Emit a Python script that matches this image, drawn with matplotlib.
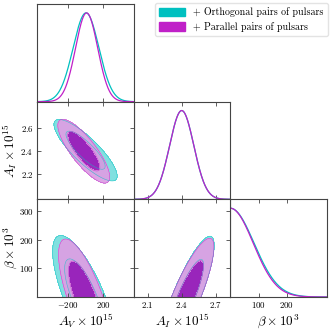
import numpy as np
import matplotlib
matplotlib.use("Agg")
import matplotlib.pyplot as plt
from matplotlib.patches import Patch

plt.rcParams['font.family'] = 'serif'
plt.rcParams['font.serif'] = ['cmr10']
plt.rcParams['mathtext.fontset'] = 'cm'
plt.rcParams['axes.unicode_minus'] = False

# ---------------- data ----------------
series_labels = ['+ Orthogonal pairs of pulsars', '+ Parallel pairs of pulsars']
line_colors = ['#00c0c0', '#c020c8']
outer_fill = ['#80e0e0', '#dca0e4']
inner_fill = ['#00b0b0', '#a41cbc']

# 1D marginals
av_mean = [5.0, 12.0]
av_sd = [145.0, 124.0]
ai_mean = [2.40, 2.40]
ai_sd = [0.107, 0.107]
beta_sd = [84.0, 81.0]

# 2D: A_V vs A_I
avai_av0 = [0.0, -20.0]
avai_ai0 = [2.405, 2.396]
avai_sd_av = [145.0, 119.0]
avai_sd_ai = [0.110, 0.114]
avai_rho = [-0.84, -0.81]

# 2D: A_V vs beta
avb_av0 = [-15.0, -7.0]
avb_sd_av = [145.0, 121.0]
avb_sd_b = [88.0, 83.0]
avb_rho = [-0.74, -0.73]

# 2D: A_I vs beta
aib_ai0 = [2.44, 2.44]
aib_sd_ai = [0.101, 0.100]
aib_sd_b = [87.0, 84.0]
aib_rho = [0.85, 0.845]

# axis ranges & ticks
av_lim = (-545, 540)
ai_lim = (1.975, 2.83)
b_lim = (0, 342)
av_ticks = [-200, 200]
ai_ticks_x = [2.1, 2.4, 2.7]
ai_ticks_y = [2.2, 2.4, 2.6]
b_ticks_y = [100, 200, 300]
b_ticks_x = [100, 200]
labels = [r'$A_V \times 10^{15}$', r'$A_I \times 10^{15}$', r'$\beta \times 10^{3}$']
contour_r2 = [2.30, 5.99]

# ---------------- figure ----------------
fig = plt.figure(figsize=(3.32, 3.32), dpi=100)
L, R, T, B = 37/332, 327/332, 1-4/332, 1-297/332
gs = fig.add_gridspec(3, 3, left=L, right=R, top=T, bottom=B, wspace=0, hspace=0)
pw = (R - L) / 3 * 332   # panel width px
ph = (T - B) / 3 * 332   # panel height px

spine_col = '#444444'

def style(ax):
    for s in ax.spines.values():
        s.set_color(spine_col)
        s.set_linewidth(0.8)
    ax.tick_params(direction='in', length=3, width=0.6, color=spine_col,
                   top=True, right=True, labelsize=6.4, pad=2.5)

def fmt(v):
    if isinstance(v, float):
        return r'$%g$' % v
    return r'$%d$' % v

def gauss2d(ax, x0, y0, sx, sy, rho, xlim, ylim, i):
    x = np.linspace(*xlim, 400)
    y = np.linspace(*ylim, 400)
    X, Y = np.meshgrid(x, y)
    dx = (X - x0) / sx
    dy = (Y - y0) / sy
    r2 = (dx**2 - 2*rho*dx*dy + dy**2) / (1 - rho**2)
    alpha = 1.0 if i == 0 else 0.94
    ax.contourf(X, Y, r2, levels=[-1, contour_r2[0], contour_r2[1]],
                colors=[inner_fill[i], outer_fill[i]], alpha=alpha)
    ax.contour(X, Y, r2, levels=contour_r2, colors=[line_colors[i]], linewidths=0.4, alpha=0.7)

axes = {}
# 1D A_V
ax = fig.add_subplot(gs[0, 0]); axes[(0, 0)] = ax
x = np.linspace(*av_lim, 500)
for i in range(2):
    ax.plot(x, np.exp(-0.5*((x-av_mean[i])/av_sd[i])**2), color=line_colors[i], lw=0.9)
ax.set_xlim(av_lim); ax.set_ylim(0, 1.1)

# 1D A_I
ax = fig.add_subplot(gs[1, 1]); axes[(1, 1)] = ax
x = np.linspace(*ai_lim, 500)
for i in range(2):
    ax.plot(x, np.exp(-0.5*((x-ai_mean[i])/ai_sd[i])**2), color=line_colors[i], lw=0.9)
ax.set_xlim(ai_lim); ax.set_ylim(0, 1.1)

# 1D beta
ax = fig.add_subplot(gs[2, 2]); axes[(2, 2)] = ax
x = np.linspace(*b_lim, 500)
for i in range(2):
    ax.plot(x, np.exp(-0.5*(x/beta_sd[i])**2), color=line_colors[i], lw=0.9)
ax.set_xlim(b_lim); ax.set_ylim(0, 1.1)

# 2D A_V - A_I
ax = fig.add_subplot(gs[1, 0]); axes[(1, 0)] = ax
for i in range(2):
    gauss2d(ax, avai_av0[i], avai_ai0[i], avai_sd_av[i], avai_sd_ai[i], avai_rho[i], av_lim, ai_lim, i)
ax.set_xlim(av_lim); ax.set_ylim(ai_lim)

# 2D A_V - beta
ax = fig.add_subplot(gs[2, 0]); axes[(2, 0)] = ax
for i in range(2):
    gauss2d(ax, avb_av0[i], 0.0, avb_sd_av[i], avb_sd_b[i], avb_rho[i], av_lim, (-400, b_lim[1]), i)
ax.set_xlim(av_lim); ax.set_ylim(b_lim)

# 2D A_I - beta
ax = fig.add_subplot(gs[2, 1]); axes[(2, 1)] = ax
for i in range(2):
    gauss2d(ax, aib_ai0[i], 0.0, aib_sd_ai[i], aib_sd_b[i], aib_rho[i], ai_lim, (-400, b_lim[1]), i)
ax.set_xlim(ai_lim); ax.set_ylim(b_lim)

xticks_col = {0: av_ticks, 1: ai_ticks_x, 2: b_ticks_x}
yticks_row = {1: ai_ticks_y, 2: b_ticks_y}

for (r, c), ax in axes.items():
    style(ax)
    ax.set_xticks(xticks_col[c])
    if r == 2:
        ax.set_xticklabels([fmt(v) for v in xticks_col[c]])
        ax.set_xlabel(labels[c], fontsize=9.5)
        ax.xaxis.label.set_va('center')
        ax.xaxis.set_label_coords(0.5, -(321 - 297) / ph)
    else:
        ax.set_xticklabels([])
    if r == c:
        ax.set_yticks([])
        ax.tick_params(right=False, left=False)
    else:
        ax.set_yticks(yticks_row[r])
        if c == 0:
            ax.set_yticklabels([fmt(v) for v in yticks_row[r]])
            ax.set_ylabel(labels[r], fontsize=9.5)
            ax.yaxis.label.set_va('center')
            ax.yaxis.set_label_coords(-(37 - 10) / pw, 0.5)
        else:
            ax.set_yticklabels([])

handles = [Patch(facecolor=line_colors[i], edgecolor=line_colors[i]) for i in range(2)]
fig.legend(handles, series_labels, loc='upper right', bbox_to_anchor=(R + 0.002, T + 0.002),
           fontsize=7.2, frameon=True, fancybox=True, edgecolor='#dddddd',
           handlelength=2.6, handleheight=0.9, borderpad=0.4, labelspacing=0.45,
           handletextpad=0.8, borderaxespad=0.0)

fig.savefig('out.png', dpi=100)
